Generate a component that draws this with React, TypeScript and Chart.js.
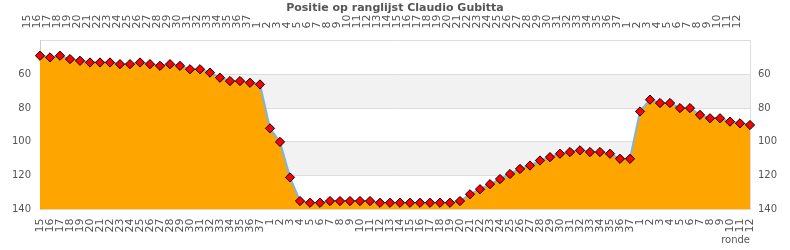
import React, { useEffect, useRef } from "react";
import { Chart, registerables } from "chart.js";

Chart.register(...registerables);

const chartTitle = "Positie op ranglijst Claudio Gubitta";
const xAxisTitle = "ronde";

const rounds = [
  "15", "16", "17", "18", "19", "20", "21", "22", "23", "24", "25", "26", "27", "28", "29", "30", "31", "32", "33", "34", "35", "36", "37",
  "1", "2", "3", "4", "5", "6", "7", "8", "9", "10", "11", "12", "13", "14", "15", "16", "17", "18", "19", "20", "21", "22", "23", "24", "25", "26", "27", "28", "29", "30", "31", "32", "33", "34", "35", "36", "37",
  "1", "2", "3", "4", "5", "6", "7", "8", "9", "10", "11", "12",
];

const positions = [
  49, 50, 49, 51, 52, 53, 53, 53, 54, 54, 53, 54, 55, 54, 55, 57, 57, 59, 62, 64, 64, 65, 66,
  92, 100, 121, 135, 136, 136, 135, 135, 135, 135, 135, 136, 136, 136, 136, 136, 136, 136, 136, 135, 131, 128, 125, 122, 119, 116, 114, 111, 109, 107, 106, 105, 106, 106, 107, 110, 110,
  82, 75, 77, 77, 80, 80, 84, 86, 86, 88, 89, 90,
];

const yMin = 40;
const yMax = 140;
const yStep = 20;
const shadedBands = [
  [60, 80],
  [100, 120],
];

const textColor = "#555555";
const fontFamily = "'DejaVu Sans', sans-serif";

const bandPlugin = {
  id: "bands",
  beforeDraw(chart: any) {
    const { ctx, chartArea } = chart;
    const y = chart.scales.y;
    ctx.save();
    ctx.fillStyle = "#f2f2f2";
    for (const [a, b] of shadedBands) {
      const y1 = y.getPixelForValue(a);
      const y2 = y.getPixelForValue(b);
      ctx.fillRect(chartArea.left, Math.min(y1, y2), chartArea.right - chartArea.left, Math.abs(y2 - y1));
    }
    ctx.restore();
  },
};

export default function App() {
  const canvasRef = useRef<HTMLCanvasElement | null>(null);

  useEffect(() => {
    document.body.style.margin = "0";
    const canvas = canvasRef.current;
    if (!canvas) return;

    const xTicks = {
      autoSkip: false,
      minRotation: 90,
      maxRotation: 90,
      color: textColor,
      font: { family: fontFamily, size: 11 },
    };
    const yTicks = {
      stepSize: yStep,
      color: textColor,
      font: { family: fontFamily, size: 10 },
      callback: (v: any) => (v === yMin ? "" : String(v)),
    };

    const chart = new Chart(canvas, {
      type: "line",
      data: {
        labels: rounds,
        datasets: [
          {
            data: positions,
            xAxisID: "x",
            yAxisID: "y",
            borderColor: "#7fb2e0",
            borderWidth: 2,
            backgroundColor: "#ffa500",
            fill: "start",
            tension: 0,
            pointStyle: "rectRot",
            pointRadius: 4.6,
            pointBackgroundColor: "#ff0000",
            pointBorderColor: "#000000",
            pointBorderWidth: 1,
          },
        ],
      },
      plugins: [bandPlugin],
      options: {
        animation: false,
        responsive: false,
        devicePixelRatio: 1,
        layout: { padding: 0 },
        plugins: {
          legend: { display: false },
          tooltip: { enabled: false },
          title: {
            display: true,
            text: chartTitle,
            color: textColor,
            font: { family: fontFamily, size: 11, weight: "bold" },
            padding: { top: 2, bottom: 0 },
          },
        },
        scales: {
          x: {
            type: "category",
            position: "bottom",
            grid: { display: false, drawTicks: false },
            border: { display: false },
            ticks: { ...xTicks, padding: 9 },
            title: {
              display: true,
              text: xAxisTitle,
              align: "end",
              color: textColor,
              font: { family: fontFamily, size: 10 },
              padding: { top: 4, bottom: 4 },
            },
            afterFit: (s: any) => {
              s.height = 40.5;
            },
          },
          xTop: {
            type: "category",
            position: "top",
            grid: { display: false, drawTicks: false },
            border: { display: false },
            ticks: { ...xTicks, padding: 12 },
            afterFit: (s: any) => {
              s.height = 25.3;
            },
          },
          y: {
            type: "linear",
            position: "left",
            reverse: true,
            min: yMin,
            max: yMax,
            grid: { color: "#dddddd", drawTicks: false },
            border: { display: true, color: "#cccccc" },
            ticks: { ...yTicks, padding: 9 },
            afterFit: (s: any) => {
              s.width = 40;
            },
          },
          y2: {
            type: "linear",
            position: "right",
            reverse: true,
            min: yMin,
            max: yMax,
            grid: { display: false, drawTicks: false },
            border: { display: true, color: "#dddddd" },
            ticks: { ...yTicks, padding: 8 },
            afterFit: (s: any) => {
              s.width = 40;
            },
          },
        },
      },
    } as any);

    return () => {
      chart.destroy();
    };
  }, []);

  return (
    <div style={{ position: "absolute", left: 0, top: 0, width: 790, height: 250 }}>
      <canvas ref={canvasRef} width={790} height={250} />
    </div>
  );
}
